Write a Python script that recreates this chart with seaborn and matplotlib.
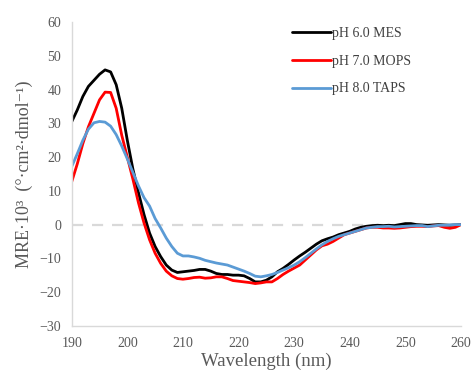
import numpy as np
import pandas as pd
import matplotlib
matplotlib.use("Agg")
import matplotlib.pyplot as plt
import seaborn as sns

wavelength = list(range(190, 261))

mes = [30.5, 34, 38, 41, 42.8, 44.6, 45.9, 45.3, 41.5, 34.5,
       25, 16.5, 9.5, 3, -2.5, -6.5, -9.5, -12, -13.5, -14.2,
       -14, -13.8, -13.6, -13.3, -13.3, -13.8, -14.5, -14.8, -14.8, -15,
       -15, -15.2, -16, -17, -17, -16.5, -15.5, -14, -13, -11.8,
       -10.5, -9.3, -8.2, -7, -5.8, -4.8, -4.2, -3.7, -3, -2.5,
       -2, -1.3, -0.8, -0.5, -0.3, -0.2, -0.3, -0.2, -0.3, 0,
       0.3, 0.3, 0, -0.1, -0.2, -0.1, 0, -0.1, -0.2, -0.1, 0]

mops = [12.7, 18, 24, 29, 33, 37, 39.3, 39.2, 34.5, 26.5,
        20, 13.5, 6.5, 0.5, -4.5, -8.5, -11.5, -13.8, -15.2, -16,
        -16.2, -16, -15.7, -15.6, -15.9, -15.8, -15.5, -15.5, -16, -16.6,
        -16.8, -17, -17.2, -17.5, -17.3, -17, -17, -16, -14.8, -13.8,
        -12.9, -12, -10.5, -9, -7.5, -6.3, -5.8, -5, -4, -3,
        -2.5, -2, -1.5, -1, -0.8, -0.8, -1, -1, -1.1, -1,
        -0.8, -0.6, -0.5, -0.5, -0.6, -0.4, -0.3, -0.8, -1.1, -0.8, 0]

taps = [17.2, 21, 25, 28.3, 30.2, 30.6, 30.4, 29.2, 26.7, 23.3,
        19.5, 15.5, 11.5, 8, 5.5, 1.8, -1, -4, -6.5, -8.5,
        -9.3, -9.3, -9.6, -10, -10.6, -11, -11.4, -11.7, -12, -12.6,
        -13.2, -13.8, -14.5, -15.3, -15.5, -15.2, -14.8, -14.2, -13.5, -12.8,
        -12, -11, -9.8, -8.5, -7.2, -6, -5, -4.2, -3.5, -3,
        -2.5, -2, -1.5, -1, -0.8, -0.6, -0.6, -0.5, -0.7, -0.6,
        -0.5, -0.4, -0.3, -0.3, -0.6, -0.4, -0.2, -0.2, -0.1, 0, 0]

labels = ["pH 6.0 MES", "pH 7.0 MOPS", "pH 8.0 TAPS"]
colors = ["#000000", "#ff0000", "#5b9bd5"]
x_ticks = list(range(190, 261, 10))
y_ticks = list(range(-30, 61, 10))

df = pd.DataFrame({
    "Wavelength": wavelength * 3,
    "MRE": mes + mops + taps,
    "Buffer": [labels[0]] * len(wavelength) + [labels[1]] * len(wavelength) + [labels[2]] * len(wavelength),
})

sns.set_style("white")
plt.rcParams["font.family"] = ["Liberation Serif", "DejaVu Serif"]

fig = plt.figure(figsize=(4.73, 3.79), dpi=100)
ax = fig.add_axes([0.1516, 0.1406, 0.823, 0.8004])

ax.axhline(0, color="#d9d9d9", lw=1.6, ls=(0, (5, 4)), zorder=0)

sns.lineplot(data=df, x="Wavelength", y="MRE", hue="Buffer",
             palette=dict(zip(labels, colors)), linewidth=2.0, ax=ax)
for line in ax.get_lines():
    line.set_solid_joinstyle("round")

ax.set_xlim(190, 260)
ax.set_ylim(-30, 60)
ax.set_xticks(x_ticks)
ax.set_yticks(y_ticks)

for s in ["top", "right"]:
    ax.spines[s].set_visible(False)
for s in ["left", "bottom"]:
    ax.spines[s].set_color("#d9d9d9")
    ax.spines[s].set_linewidth(1.0)

ax.tick_params(axis="both", which="both", direction="out", length=4,
               color="#d9d9d9", width=1.0, labelsize=10, labelcolor="#595959")
ax.tick_params(axis="x", pad=4)

ax.set_xlabel("Wavelength (nm)", fontsize=13.5, color="#595959", labelpad=2)
ax.set_ylabel("MRE·10³  (°·cm²·dmol⁻¹)", fontsize=13, color="#595959", labelpad=5)

leg = ax.legend(loc="upper right", frameon=False, fontsize=10,
                handlelength=2.8, handletextpad=0.1, labelspacing=1.05,
                bbox_to_anchor=(0.905, 1.025))
for t in leg.get_texts():
    t.set_color("#404040")

fig.savefig("out.png", dpi=100)
